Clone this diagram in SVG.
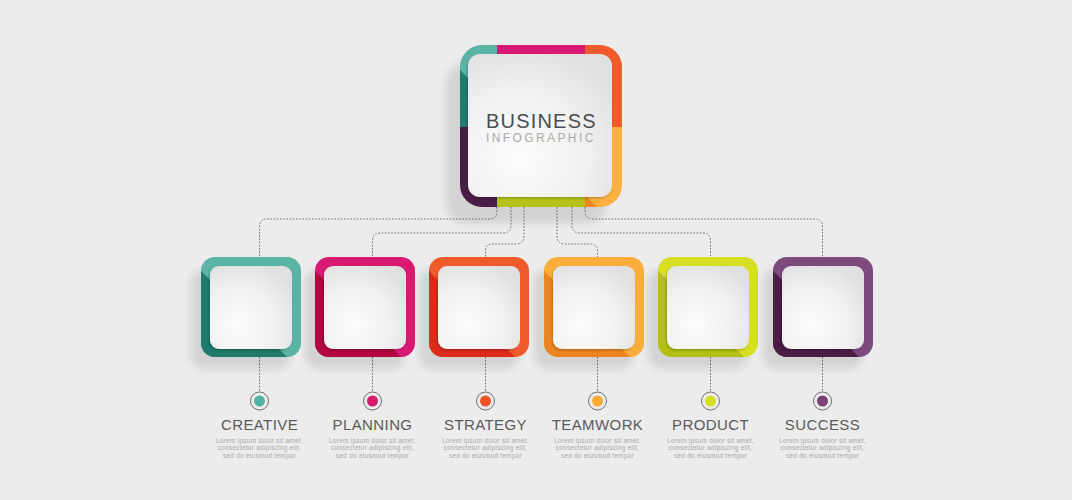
<svg xmlns="http://www.w3.org/2000/svg" width="1072" height="500" viewBox="0 0 1072 500">
<defs>
<style>
.conn{fill:none;stroke:#6f6f6f;stroke-width:1;stroke-dasharray:1.6 1.6}
.ring{fill:none;stroke:#6f6f6f;stroke-width:1}
.title{font-family:"Liberation Sans",Arial,sans-serif;font-size:15px;fill:#5a5a5a;text-anchor:middle;letter-spacing:0.4px}
.lorem{font-family:"Liberation Sans",Arial,sans-serif;font-size:6.4px;fill:#a9a9a9;text-anchor:middle;letter-spacing:0.3px}
.inner{fill:url(#wg);filter:url(#ds)}
.shadow{fill:#000;opacity:0.1;filter:url(#blur)}
</style>
<radialGradient id="wg" cx="0.35" cy="0.72" r="0.8">
<stop offset="0" stop-color="#fcfcfc"/>
<stop offset="0.6" stop-color="#f0f0f0"/>
<stop offset="1" stop-color="#e0e0e0"/>
</radialGradient>
<filter id="ds" x="-20%" y="-20%" width="140%" height="140%">
<feDropShadow dx="-1" dy="1.5" stdDeviation="1.2" flood-color="#000" flood-opacity="0.22"/>
</filter>
<filter id="blur" x="-30%" y="-30%" width="160%" height="160%">
<feGaussianBlur stdDeviation="4"/>
</filter>
<clipPath id="sclip"><rect x="0" y="0" width="100" height="100" rx="14"/></clipPath>
<clipPath id="mclip"><rect x="460" y="45" width="162" height="162" rx="22"/></clipPath>
</defs>
<rect width="1072" height="500" fill="#ececec"/>

<g id="connectors">
<path class="conn" d="M497,207 V211 Q497,219 489,219 H267 Q259.5,219 259.5,227 V257"/>
<path class="conn" d="M511,207 V225 Q511,233 503,233 H380 Q372.5,233 372.5,241 V257"/>
<path class="conn" d="M524,207 V236 Q524,244 516,244 H493 Q485.5,244 485.5,251 V257"/>
<path class="conn" d="M557,207 V236 Q557,244 565,244 H590 Q597.5,244 597.5,251 V257"/>
<path class="conn" d="M572,207 V225 Q572,233 580,233 H703 Q710.5,233 710.5,241 V257"/>
<path class="conn" d="M585,207 V211 Q585,219 593,219 H815 Q822.5,219 822.5,227 V257"/>
<path class="conn" d="M259.5,357 V392"/>
<path class="conn" d="M372.5,357 V392"/>
<path class="conn" d="M485.5,357 V392"/>
<path class="conn" d="M597.5,357 V392"/>
<path class="conn" d="M710.5,357 V392"/>
<path class="conn" d="M822.5,357 V392"/>
</g>

<g id="main">
<rect class="shadow" x="446" y="62" width="162" height="162" rx="22"/>
<g clip-path="url(#mclip)">
<rect x="460" y="45" width="37" height="82" fill="#5bb3a5"/>
<polygon points="455,65 497,107 497,127 455,127" fill="#1f7c6c"/>
<rect x="497" y="45" width="88" height="82" fill="#d81b72"/>
<rect x="585" y="45" width="37" height="82" fill="#f15a2b"/>
<rect x="585" y="127" width="37" height="80" fill="#fbb040"/>
<polygon points="585,195 630,240 585,240" fill="#f0871f"/>
<rect x="497" y="127" width="88" height="80" fill="#b6c21a"/>
<rect x="460" y="127" width="37" height="80" fill="#4a1d46"/>
</g>
<rect class="inner" x="468" y="54" width="144" height="143" rx="12"/>
<text x="486" y="128" font-family="'Liberation Sans',Arial,sans-serif" font-size="20" fill="#4d4d4d" letter-spacing="1.2">BUSINESS</text>
<text x="486" y="142" font-family="'Liberation Sans',Arial,sans-serif" font-size="12" fill="#ababab" letter-spacing="2.4">INFOGRAPHIC</text>
</g>

<g id="creative">
<g transform="translate(201,257)">
<rect class="shadow" x="-10" y="12" width="100" height="100" rx="14"/>
<rect width="100" height="100" rx="14" fill="#5bb3a5"/>
<polygon points="-5,9 105,119 -5,119" fill="#1f7b6c" clip-path="url(#sclip)"/>
<rect class="inner" x="9" y="9" width="82" height="83" rx="9"/>
</g>
<circle class="ring" cx="259.5" cy="401" r="9"/>
<circle cx="259.5" cy="401" r="5.5" fill="#53b3a3"/>
<text class="title" x="259.5" y="430">CREATIVE</text>
<text class="lorem" x="259.5" y="443">Lorem ipsum dolor sit amet,</text>
<text class="lorem" x="259.5" y="450.4">consectetur adipiscing elit,</text>
<text class="lorem" x="259.5" y="457.8">sed do eiusmod tempor</text>
</g>

<g id="planning">
<g transform="translate(315,257)">
<rect class="shadow" x="-10" y="12" width="100" height="100" rx="14"/>
<rect width="100" height="100" rx="14" fill="#d81b72"/>
<polygon points="-5,9 105,119 -5,119" fill="#b1063f" clip-path="url(#sclip)"/>
<rect class="inner" x="9" y="9" width="82" height="83" rx="9"/>
</g>
<circle class="ring" cx="372.5" cy="401" r="9"/>
<circle cx="372.5" cy="401" r="5.5" fill="#d61a6e"/>
<text class="title" x="372.5" y="430">PLANNING</text>
<text class="lorem" x="372.5" y="443">Lorem ipsum dolor sit amet,</text>
<text class="lorem" x="372.5" y="450.4">consectetur adipiscing elit,</text>
<text class="lorem" x="372.5" y="457.8">sed do eiusmod tempor</text>
</g>

<g id="strategy">
<g transform="translate(429,257)">
<rect class="shadow" x="-10" y="12" width="100" height="100" rx="14"/>
<rect width="100" height="100" rx="14" fill="#f15a2b"/>
<polygon points="-5,9 105,119 -5,119" fill="#dd2b1b" clip-path="url(#sclip)"/>
<rect class="inner" x="9" y="9" width="82" height="83" rx="9"/>
</g>
<circle class="ring" cx="485.5" cy="401" r="9"/>
<circle cx="485.5" cy="401" r="5.5" fill="#f0532a"/>
<text class="title" x="485.5" y="430">STRATEGY</text>
<text class="lorem" x="485.5" y="443">Lorem ipsum dolor sit amet,</text>
<text class="lorem" x="485.5" y="450.4">consectetur adipiscing elit,</text>
<text class="lorem" x="485.5" y="457.8">sed do eiusmod tempor</text>
</g>

<g id="teamwork">
<g transform="translate(544,257)">
<rect class="shadow" x="-10" y="12" width="100" height="100" rx="14"/>
<rect width="100" height="100" rx="14" fill="#fbae3c"/>
<polygon points="-5,9 105,119 -5,119" fill="#ee8421" clip-path="url(#sclip)"/>
<rect class="inner" x="9" y="9" width="82" height="83" rx="9"/>
</g>
<circle class="ring" cx="597.5" cy="401" r="9"/>
<circle cx="597.5" cy="401" r="5.5" fill="#f9ab32"/>
<text class="title" x="597.5" y="430">TEAMWORK</text>
<text class="lorem" x="597.5" y="443">Lorem ipsum dolor sit amet,</text>
<text class="lorem" x="597.5" y="450.4">consectetur adipiscing elit,</text>
<text class="lorem" x="597.5" y="457.8">sed do eiusmod tempor</text>
</g>

<g id="product">
<g transform="translate(658,257)">
<rect class="shadow" x="-10" y="12" width="100" height="100" rx="14"/>
<rect width="100" height="100" rx="14" fill="#d7df23"/>
<polygon points="-5,9 105,119 -5,119" fill="#b3bf15" clip-path="url(#sclip)"/>
<rect class="inner" x="9" y="9" width="82" height="83" rx="9"/>
</g>
<circle class="ring" cx="710.5" cy="401" r="9"/>
<circle cx="710.5" cy="401" r="5.5" fill="#d4df22"/>
<text class="title" x="710.5" y="430">PRODUCT</text>
<text class="lorem" x="710.5" y="443">Lorem ipsum dolor sit amet,</text>
<text class="lorem" x="710.5" y="450.4">consectetur adipiscing elit,</text>
<text class="lorem" x="710.5" y="457.8">sed do eiusmod tempor</text>
</g>

<g id="success">
<g transform="translate(773,257)">
<rect class="shadow" x="-10" y="12" width="100" height="100" rx="14"/>
<rect width="100" height="100" rx="14" fill="#7d4a7e"/>
<polygon points="-5,9 105,119 -5,119" fill="#4a1c46" clip-path="url(#sclip)"/>
<rect class="inner" x="9" y="9" width="82" height="83" rx="9"/>
</g>
<circle class="ring" cx="822.5" cy="401" r="9"/>
<circle cx="822.5" cy="401" r="5.5" fill="#7c4276"/>
<text class="title" x="822.5" y="430">SUCCESS</text>
<text class="lorem" x="822.5" y="443">Lorem ipsum dolor sit amet,</text>
<text class="lorem" x="822.5" y="450.4">consectetur adipiscing elit,</text>
<text class="lorem" x="822.5" y="457.8">sed do eiusmod tempor</text>
</g>
</svg>
